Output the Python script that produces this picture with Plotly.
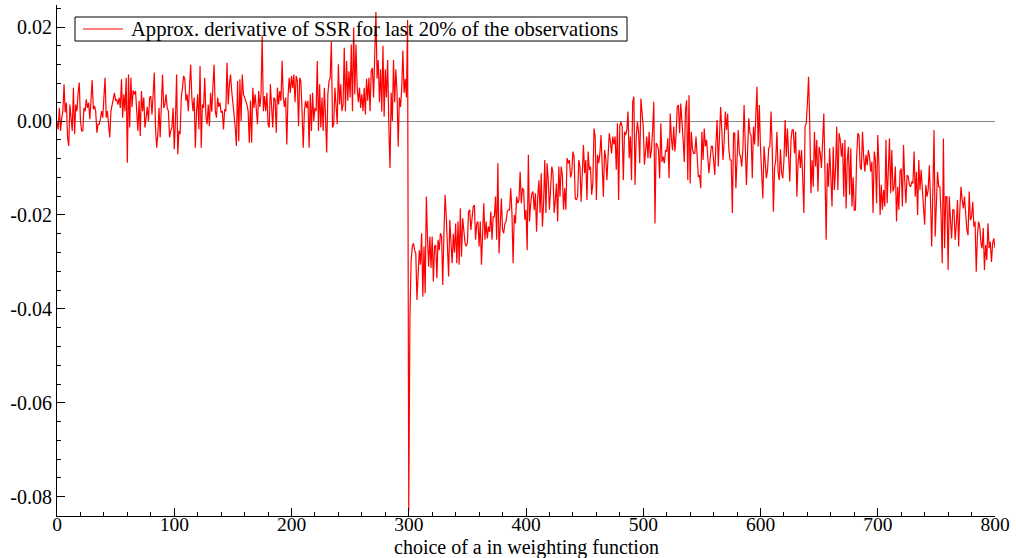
import plotly.graph_objects as go

# Approx. derivative of SSR, one value per integer a (0..800)
seg_a = [0.0000, -0.0018, 0.0028, -0.0021, 0.0005, 0.0021, 0.0078, 0.0018, 0.0039, -0.0035,
         -0.0053, 0.0035, 0.0007, -0.0021, 0.0071, -0.0028, 0.0035, 0.0021, 0.0060, 0.0082,
         0.0000, -0.0021, -0.0021, 0.0028, 0.0021, 0.0046, 0.0028, 0.0039, 0.0004, 0.0039,
         0.0087, 0.0025, 0.0032, 0.0021, -0.0025, -0.0007, -0.0007, 0.0004, 0.0021, 0.0007,
         0.0050, 0.0092, 0.0007, 0.0021, -0.0007, -0.0035, 0.0021, 0.0035, 0.0043, 0.0060,
         0.0043, 0.0046, 0.0035, 0.0050, 0.0028, 0.0089, 0.0007, 0.0057, 0.0021, 0.0092,
         -0.0089, 0.0099, -0.0014, 0.0092, 0.0030, 0.0065]
seg_b = [0.0057, 0.0064, 0.0021, -0.0021, 0.0043, -0.0032, 0.0064, 0.0021, 0.0050, -0.0014,
         0.0007, 0.0030, 0.0000, 0.0050, 0.0053, 0.0014, 0.0057, 0.0103, -0.0014, -0.0057,
         -0.0028, 0.0028, -0.0035, 0.0040, 0.0099, 0.0028, 0.0035, 0.0057, 0.0028, 0.0021,
         -0.0035, -0.0021, -0.0014, 0.0028, -0.0060, 0.0000, 0.0099, -0.0071, -0.0021, -0.0028,
         0.0050, 0.0071, 0.0096, 0.0089, 0.0043, 0.0057, 0.0021, 0.0071, 0.0120, 0.0050,
         0.0021, 0.0050, -0.0057, 0.0021, 0.0057, -0.0018, 0.0117, -0.0057, 0.0035, 0.0028,
         0.0092, 0.0010, -0.0007, 0.0035, -0.0011, 0.0060, 0.0020, 0.0075, 0.0120]
seg_c = [0.0021, 0.0007, 0.0050, 0.0030, 0.0039, 0.0018, 0.0021, -0.0018, 0.0025, 0.0021,
         0.0124, 0.0035, 0.0078, 0.0099, 0.0064, 0.0043, 0.0014, -0.0014, -0.0053, 0.0085,
         -0.0043, 0.0089, 0.0000, 0.0099, 0.0057, 0.0050, 0.0043, 0.0035, 0.0021, -0.0046,
         0.0043, -0.0046, 0.0071, 0.0028, 0.0057, 0.0010, -0.0007, 0.0064, 0.0030, 0.0057,
         0.0181, 0.0021, 0.0053, 0.0021, 0.0060, -0.0007, -0.0014, 0.0078, 0.0021, -0.0014,
         0.0050, 0.0046, -0.0025, 0.0071, 0.0035, 0.0064, 0.0043, 0.0128, 0.0050, 0.0030,
         0.0050, -0.0050, 0.0050, 0.0092, 0.0060, 0.0096, 0.0070, 0.0099, 0.0040]
seg_d = [0.0096, 0.0085, -0.0011, 0.0092, 0.0085, 0.0021, -0.0057, 0.0021, 0.0043, 0.0028,
         0.0043, -0.0057, 0.0057, -0.0021, 0.0060, 0.0000, 0.0028, 0.0021, 0.0128, -0.0021,
         0.0078, -0.0014, 0.0050, -0.0021, 0.0071, 0.0010, -0.0067, 0.0057, 0.0085, 0.0092,
         0.0170, -0.0014, -0.0007, 0.0071, 0.0030, -0.0007, 0.0121, 0.0035, 0.0078, 0.0021,
         0.0035, 0.0156, 0.0021, 0.0128, 0.0043, 0.0106, 0.0050, 0.0163, 0.0021, 0.0199,
         0.0057, 0.0163, 0.0071, 0.0040, 0.0071, 0.0028, 0.0057, 0.0021, 0.0071, 0.0014,
         0.0090, 0.0043, 0.0092, 0.0021, 0.0106, 0.0113, 0.0050, 0.0163]
seg_e = [0.0232, 0.0090, 0.0130, 0.0040, 0.0110, 0.0020, 0.0160, 0.0009, 0.0110, 0.0050,
         0.0130, -0.0010, -0.0100, 0.0060, 0.0000, 0.0130, 0.0040, 0.0110, 0.0060, -0.0055,
         0.0050, 0.0030, 0.0070, 0.0150, 0.0060, 0.0090, 0.0050, 0.0215]
seg_f = [-0.0830, -0.0420, -0.0300, -0.0267, -0.0260, -0.0275, -0.0282, -0.0381, -0.0310, -0.0275,
         -0.0306, -0.0239, -0.0374, -0.0267, -0.0367, -0.0161, -0.0250, -0.0310, -0.0246, -0.0313,
         -0.0246, -0.0342, -0.0267, -0.0264, -0.0335, -0.0253, -0.0275, -0.0239, -0.0246, -0.0349,
         -0.0239, -0.0157, -0.0204, -0.0267, -0.0331, -0.0211, -0.0275, -0.0303, -0.0240, -0.0280]
seg_g = [-0.0218, -0.0303, -0.0214, -0.0306, -0.0186, -0.0289, -0.0207, -0.0232, -0.0260, -0.0267,
         -0.0260, -0.0193, -0.0189, -0.0232, -0.0204, -0.0182, -0.0179, -0.0253, -0.0218, -0.0214,
         -0.0267, -0.0214, -0.0306, -0.0218, -0.0175, -0.0253, -0.0214, -0.0250, -0.0225, -0.0236,
         -0.0193, -0.0253, -0.0204, -0.0204, -0.0161, -0.0253, -0.0090, -0.0282, -0.0204, -0.0165,
         -0.0232, -0.0239, -0.0218, -0.0214, -0.0193, -0.0189, -0.0189, -0.0143, -0.0196, -0.0303,
         -0.0200, -0.0218, -0.0161, -0.0175, -0.0168, -0.0108, -0.0175, -0.0143, -0.0147, -0.0210,
         -0.0189, -0.0275, -0.0072, -0.0214, -0.0175, -0.0154, -0.0150, -0.0190]
seg_h = [-0.0154, -0.0236, -0.0161, -0.0126, -0.0196, -0.0111, -0.0225, -0.0175, -0.0083, -0.0196,
         -0.0090, -0.0126, -0.0189, -0.0140, -0.0097, -0.0111, -0.0196, -0.0168, -0.0133, -0.0214,
         -0.0097, -0.0161, -0.0097, -0.0115, -0.0189, -0.0143, -0.0189, -0.0079, -0.0090, -0.0083,
         -0.0120, -0.0111, -0.0065, -0.0076, -0.0165, -0.0168, -0.0161, -0.0083, -0.0097, -0.0172,
         -0.0104, -0.0051, -0.0111, -0.0083, -0.0168, -0.0065, -0.0104, -0.0097, -0.0157, -0.0133,
         -0.0016, -0.0033, -0.0168, -0.0072, -0.0090, -0.0069, -0.0030, -0.0104, -0.0161, -0.0062,
         -0.0079, -0.0126, -0.0069, -0.0026, -0.0044, -0.0069, -0.0033, -0.0050]
seg_i = [-0.0033, -0.0104, -0.0005, -0.0168, -0.0009, -0.0002, -0.0012, -0.0126, -0.0023, -0.0030,
         -0.0019, 0.0020, -0.0079, -0.0033, -0.0126, 0.0041, 0.0052, -0.0136, -0.0033, -0.0002,
         -0.0023, -0.0090, 0.0048, 0.0023, -0.0012, -0.0093, -0.0054, -0.0033, -0.0079, -0.0023,
         -0.0079, -0.0062, -0.0019, 0.0041, -0.0218, -0.0047, -0.0051, -0.0062, -0.0122, -0.0005,
         -0.0087, -0.0076, -0.0090, -0.0062, -0.0065, -0.0037, -0.0122, 0.0016, -0.0037, -0.0062,
         -0.0012, -0.0065, -0.0030, 0.0030, 0.0034, -0.0026, 0.0037, -0.0019, -0.0040, -0.0087,
         0.0023, 0.0044, -0.0126, 0.0055, -0.0133, -0.0023, -0.0060, -0.0069]
seg_j = [-0.0069, -0.0033, -0.0083, -0.0119, -0.0115, -0.0143, -0.0023, -0.0083, -0.0016, -0.0054,
         -0.0040, -0.0087, -0.0111, -0.0083, -0.0054, -0.0054, -0.0090, -0.0115, -0.0047, 0.0002,
         -0.0097, -0.0019, 0.0030, -0.0019, -0.0083, -0.0044, 0.0020, -0.0019, 0.0016, -0.0060,
         -0.0083, -0.0083, -0.0196, -0.0026, -0.0026, -0.0143, -0.0069, -0.0019, -0.0069, -0.0076,
         -0.0097, -0.0058, 0.0034, -0.0047, -0.0136, -0.0062, 0.0006, -0.0026, -0.0030, -0.0122,
         -0.0012, -0.0050, 0.0010, 0.0073, -0.0054, 0.0034, -0.0058, -0.0122, -0.0165, -0.0054,
         -0.0083, -0.0122, -0.0104, -0.0058, -0.0054, 0.0020, -0.0058, -0.0193, -0.0100]
seg_k = [-0.0083, -0.0023, -0.0108, -0.0126, -0.0060, -0.0111, -0.0122, -0.0083, 0.0002, -0.0076,
         -0.0016, -0.0076, -0.0129, -0.0040, -0.0019, -0.0019, -0.0069, -0.0023, -0.0161, -0.0090,
         -0.0062, -0.0100, -0.0062, -0.0122, -0.0196, -0.0012, -0.0005, 0.0038, 0.0094, -0.0005,
         -0.0154, -0.0083, -0.0140, -0.0023, -0.0097, -0.0040, -0.0150, -0.0055, -0.0069, -0.0100,
         -0.0037, 0.0016, -0.0111, -0.0253, -0.0090, -0.0140, -0.0058, -0.0126, -0.0182, -0.0055,
         -0.0147, -0.0104, -0.0012, -0.0147, -0.0026, -0.0040, -0.0076, -0.0047, -0.0161, -0.0040,
         -0.0186, -0.0083, -0.0055, -0.0157, -0.0058, -0.0182, -0.0120, -0.0190]
seg_l = [-0.0189, -0.0076, -0.0026, -0.0030, -0.0097, -0.0104, -0.0023, -0.0076, -0.0108, -0.0072,
         -0.0094, -0.0062, -0.0076, -0.0108, -0.0087, -0.0196, -0.0065, -0.0083, -0.0175, -0.0030,
         -0.0094, -0.0200, -0.0136, -0.0189, -0.0147, -0.0182, -0.0040, -0.0175, -0.0101, -0.0037,
         -0.0154, -0.0062, -0.0150, -0.0140, -0.0097, -0.0214, -0.0140, -0.0189, -0.0108, -0.0101,
         -0.0182, -0.0051, -0.0126, -0.0175, -0.0115, -0.0118, -0.0136, -0.0140, -0.0129, -0.0133,
         -0.0065, -0.0161, -0.0108, -0.0200, -0.0083, -0.0147, -0.0104, -0.0147, -0.0179, -0.0221]
seg_m = [-0.0136, -0.0161, -0.0147, -0.0094, -0.0168, -0.0267, -0.0150, -0.0019, -0.0246, -0.0165,
         -0.0108, -0.0140, -0.0140, -0.0200, -0.0303, -0.0037, -0.0271, -0.0161, -0.0161, -0.0317,
         -0.0161, -0.0211, -0.0250, -0.0189, -0.0189, -0.0253, -0.0221, -0.0168, -0.0267, -0.0189,
         -0.0140, -0.0168, -0.0186, -0.0161, -0.0196, -0.0232, -0.0243, -0.0150, -0.0211, -0.0204,
         -0.0172, -0.0225, -0.0214, -0.0321, -0.0246, -0.0214, -0.0225, -0.0260, -0.0271, -0.0228,
         -0.0317, -0.0264, -0.0296, -0.0218, -0.0271, -0.0257, -0.0300, -0.0260, -0.0250, -0.0271]

deriv = (seg_a + seg_b + seg_c + seg_d + seg_e + seg_f + seg_g +
         seg_h + seg_i + seg_j + seg_k + seg_l + seg_m)
a_values = list(range(len(deriv)))

x_ticks = [0, 100, 200, 300, 400, 500, 600, 700, 800]
y_ticks = [0.02, 0.00, -0.02, -0.04, -0.06, -0.08]
y_tick_text = ["0.02", "0.00", "-0.02", "-0.04", "-0.06", "-0.08"]
x_title = "choice of a in weighting function"
series_name = "Approx. derivative of SSR for last 20% of the observations"

FONT = "Liberation Serif"
RED = "#ff0000"

fig = go.Figure()
fig.add_trace(go.Scatter(
    x=a_values, y=deriv, mode="lines", name=series_name,
    line=dict(color=RED, width=1.2), showlegend=False,
))

# x-axis title
fig.add_annotation(
    text=x_title, xref="paper", yref="paper", x=0.5, y=0,
    xanchor="center", yanchor="top", yshift=-19, showarrow=False,
    borderpad=0,
    font=dict(family=FONT, size=20, color="black"),
)

# compact legend box (frame, line sample and label), in paper coordinates
fig.add_shape(type="rect", xref="paper", yref="paper",
              x0=0.0192, x1=0.6077, y0=0.9295, y1=0.9765,
              line=dict(color="black", width=1), fillcolor="rgba(0,0,0,0)", layer="above")
fig.add_shape(type="line", xref="paper", yref="paper",
              x0=0.0277, x1=0.0704, y0=0.953, y1=0.953,
              line=dict(color=RED, width=1.2), layer="above")
fig.add_annotation(
    text=series_name, xref="paper", yref="paper", x=0.0778, y=0.953,
    xanchor="left", yanchor="middle", showarrow=False, borderpad=0,
    font=dict(family=FONT, size=20.6, color="black"),
)

fig.update_layout(
    width=1016, height=558,
    margin=dict(l=57, r=21, t=5, b=42),
    paper_bgcolor="white", plot_bgcolor="white",
    font=dict(family=FONT, size=20, color="black"),
    showlegend=False,
    xaxis=dict(
        range=[0, 800], tickvals=x_ticks, ticktext=[str(v) for v in x_ticks],
        showgrid=False, zeroline=False, automargin=False,
        showline=True, linecolor="black", linewidth=1,
        ticks="inside", ticklen=8, tickcolor="black",
        ticklabelstandoff=-9,
        minor=dict(ticks="inside", ticklen=4, dtick=20, tickcolor="black", showgrid=False),
        tickfont=dict(family=FONT, size=19.5),
    ),
    yaxis=dict(
        range=[-0.0841, 0.0247], tickvals=y_ticks, ticktext=y_tick_text,
        showgrid=False, automargin=False,
        zeroline=True, zerolinecolor="#888888", zerolinewidth=1,
        showline=True, linecolor="black", linewidth=1,
        ticks="inside", ticklen=8, tickcolor="black",
        minor=dict(ticks="inside", ticklen=4, dtick=0.004, tickcolor="black", showgrid=False),
        tickfont=dict(family=FONT, size=20),
    ),
)

fig.write_html("out.html")
